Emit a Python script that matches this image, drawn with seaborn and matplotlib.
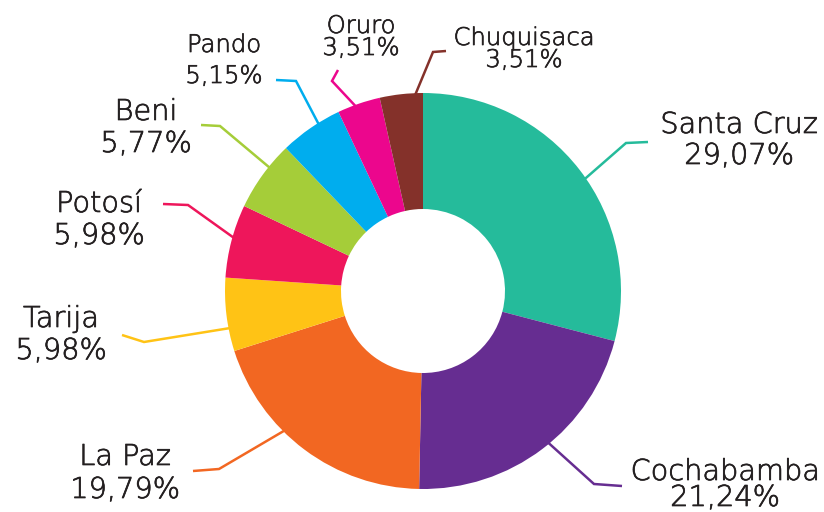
import numpy as np
import matplotlib
matplotlib.use("Agg")
import matplotlib.pyplot as plt
import matplotlib.patheffects as pe
from matplotlib import font_manager
import seaborn as sns

# ---- data ----
departments = ["Santa Cruz", "Cochabamba", "La Paz", "Tarija", "Potosí",
               "Beni", "Pando", "Oruro", "Chuquisaca"]
shares = [29.07, 21.24, 19.79, 5.98, 5.98, 5.77, 5.15, 3.51, 3.51]
share_labels = ["29,07%", "21,24%", "19,79%", "5,98%", "5,98%",
                "5,77%", "5,15%", "3,51%", "3,51%"]
colors = ["#25BB9B", "#662D91", "#F26722", "#FFC315", "#EE165B",
          "#A5CD39", "#00ADEE", "#EC068D", "#84312A"]

# ---- layout (pixel coords, y from top) ----
W, H = 824, 512
CX, CY = 423, 291
R_OUT, R_IN = 198, 82
text_pos = [(739, 133, 164, 28.8), (725, 480, 506, 28.8), (125, 465, 498, 28.8),
            (61, 327, 359, 28.8), (99, 212, 244, 28.8), (146, 120, 152, 28.8),
            (224, 52, 83, 24.3), (361, 33, 55, 24.3), (524, 45, 67, 24.3)]
leader_shift = [-3, 2.4, -8, 4, -1, -3, -2.5, 1, -4]
leader_elbow = [(626, 143), (594, 484), (219, 469), (144, 342), (188, 205),
                (220, 126), (296, 81), (332, 81), (433, 52)]
leader_end = [(648, 142), (622, 486), (193, 471), (122, 335), (163, 204),
              (201, 125), (276, 80), (338, 70), (446, 51)]

sns.set_theme(style="white")
plt.rcParams["font.family"] = ["DejaVu Sans"]
palette = sns.color_palette(colors)

light_ok = any(f.name == "DejaVu Sans" and (isinstance(f.weight, int) and f.weight < 400
               or str(f.weight).lower() in ("light", "extralight", "ultralight", "200", "300"))
               for f in font_manager.fontManager.ttflist)
weight = 200 if light_ok else "normal"

fig = plt.figure(figsize=(W / 100, H / 100), dpi=100)
ax = fig.add_axes([0, 0, 1, 1])

def fy(y):
    return H - y

ax.pie(shares, colors=palette, startangle=90, counterclock=False,
       center=(CX, fy(CY)), radius=R_OUT,
       wedgeprops=dict(width=R_OUT - R_IN, linewidth=0))
ax.set_xlim(0, W)
ax.set_ylim(0, H)
ax.set_aspect("equal")
ax.axis("off")

total = sum(shares)
cum = np.cumsum([0] + shares[:-1])
px = 72 / 100  # px -> pt
txt_color = "#231F20"
effects = [pe.withStroke(linewidth=0.5, foreground=txt_color)] if light_ok else None
for i, (name, val) in enumerate(zip(departments, share_labels)):
    mid = 90 - (cum[i] + shares[i] / 2) / total * 360 + leader_shift[i]
    a = np.deg2rad(mid)
    sx = CX + (R_OUT - 2) * np.cos(a)
    sy = fy(CY) + (R_OUT - 2) * np.sin(a)
    ex, ey = leader_elbow[i]
    tx, ty = leader_end[i]
    ax.plot([sx, ex, tx], [sy, fy(ey), fy(ty)], color=colors[i], lw=1.8,
            solid_capstyle="butt", solid_joinstyle="miter")
    cx, b1, b2, fs = text_pos[i]
    for txt, b in ((name, b1), (val, b2)):
        ax.text(cx, fy(b), txt, ha="center", va="baseline", fontsize=fs * px,
                color=txt_color, fontweight=weight, path_effects=effects)

fig.savefig("out.png", dpi=100, facecolor="white")
